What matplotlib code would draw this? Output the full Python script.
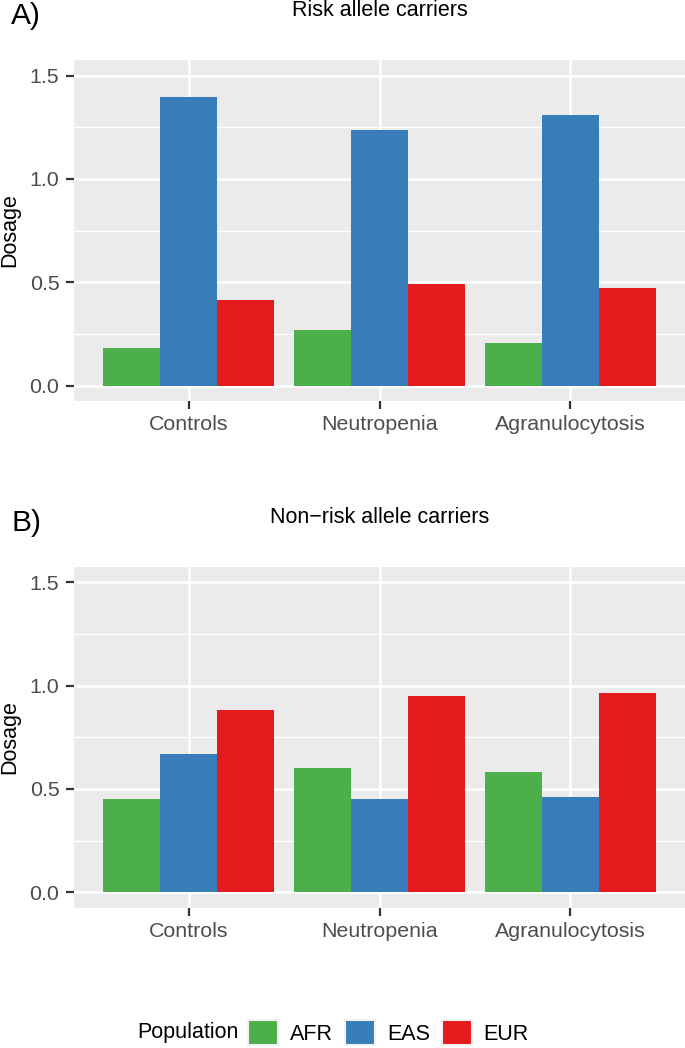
import matplotlib
matplotlib.use("Agg")
import matplotlib.pyplot as plt
from matplotlib.patches import Patch
import numpy as np

categories = ["Controls", "Neutropenia", "Agranulocytosis"]
populations = ["AFR", "EAS", "EUR"]
pop_colors = ["#4DAF4A", "#377EB8", "#E41A1C"]

risk_afr = [0.182, 0.270, 0.207]
risk_eas = [1.395, 1.234, 1.311]
risk_eur = [0.415, 0.489, 0.473]

nonrisk_afr = [0.450, 0.600, 0.581]
nonrisk_eas = [0.668, 0.450, 0.460]
nonrisk_eur = [0.881, 0.949, 0.963]

y_ticks = [0.0, 0.5, 1.0, 1.5]
y_tick_labels = ["0.0", "0.5", "1.0", "1.5"]

plt.rcParams["font.family"] = ["Liberation Sans", "DejaVu Sans"]

W, H = 685, 1048
fig = plt.figure(figsize=(W / 100, H / 100), dpi=100)
fig.patch.set_facecolor("white")

def fx(px):
    return px / W

def fy(py):
    return 1 - py / H

tick_fs = 15.4
text_fs = 15.5
panel_h = 341

def draw_panel(top_px, series, title, tag):
    ax = fig.add_axes([fx(74), fy(top_px + panel_h), fx(685) - fx(74), panel_h / H])
    ax.set_facecolor("#EBEBEB")
    x = np.arange(1, len(categories) + 1)
    w = 0.3
    for i, (vals, col, pop) in enumerate(zip(series, pop_colors, populations)):
        ax.bar(x + (i - 1) * w, vals, width=w, color=col, edgecolor="none",
               label=pop, zorder=3)
    ax.set_xlim(0.4, 3.6)
    ax.set_ylim(-0.075, 1.575)
    ax.set_xticks(x)
    ax.set_xticklabels(categories)
    ax.set_yticks(y_ticks)
    ax.set_yticklabels(y_tick_labels)
    ax.set_yticks([0.25, 0.75, 1.25], minor=True)
    ax.grid(which="major", axis="both", color="white", linewidth=1.9, zorder=1)
    ax.grid(which="minor", axis="y", color="white", linewidth=0.95, zorder=1)
    ax.tick_params(axis="x", which="minor", bottom=False)
    ax.tick_params(axis="y", which="minor", left=False)
    ax.tick_params(which="major", length=6, width=1.6, color="#333333",
                   labelsize=tick_fs, labelcolor="#4D4D4D")
    ax.tick_params(axis="y", pad=4.5)
    ax.tick_params(axis="x", pad=4)
    for s in ax.spines.values():
        s.set_visible(False)
    ax.set_axisbelow(True)
    fig.text(fx(379.5), fy(top_px - 44), title, ha="center", va="baseline",
             fontsize=text_fs, color="black")
    fig.text(fx(11), fy(top_px - 36), tag, ha="left", va="baseline",
             fontsize=21.5, color="black")
    fig.text(fx(10), fy(top_px + panel_h / 2), "Dosage", rotation=90,
             ha="center", va="center", fontsize=text_fs, color="black")
    return ax

axA = draw_panel(60, [risk_afr, risk_eas, risk_eur], "Risk allele carriers", "A)")
axB = draw_panel(566.7, [nonrisk_afr, nonrisk_eas, nonrisk_eur],
                 "Non\u2212risk allele carriers", "B)")

leg_handles = [Patch(facecolor=c, edgecolor="#F2F2F2", linewidth=1.5) for c in pop_colors]
fig.text(fx(137.7), fy(1032.5), "Population", ha="left", va="center",
         fontsize=text_fs, color="black")
leg = fig.legend(leg_handles, populations, loc="center left",
                 bbox_to_anchor=(fx(248), fy(1032.5)), ncol=3, frameon=False,
                 fontsize=text_fs, handlelength=1.4, handleheight=1.4,
                 handletextpad=0.55, columnspacing=0.55, borderpad=0,
                 borderaxespad=0)

fig.savefig("out.png", dpi=100, facecolor="white")
